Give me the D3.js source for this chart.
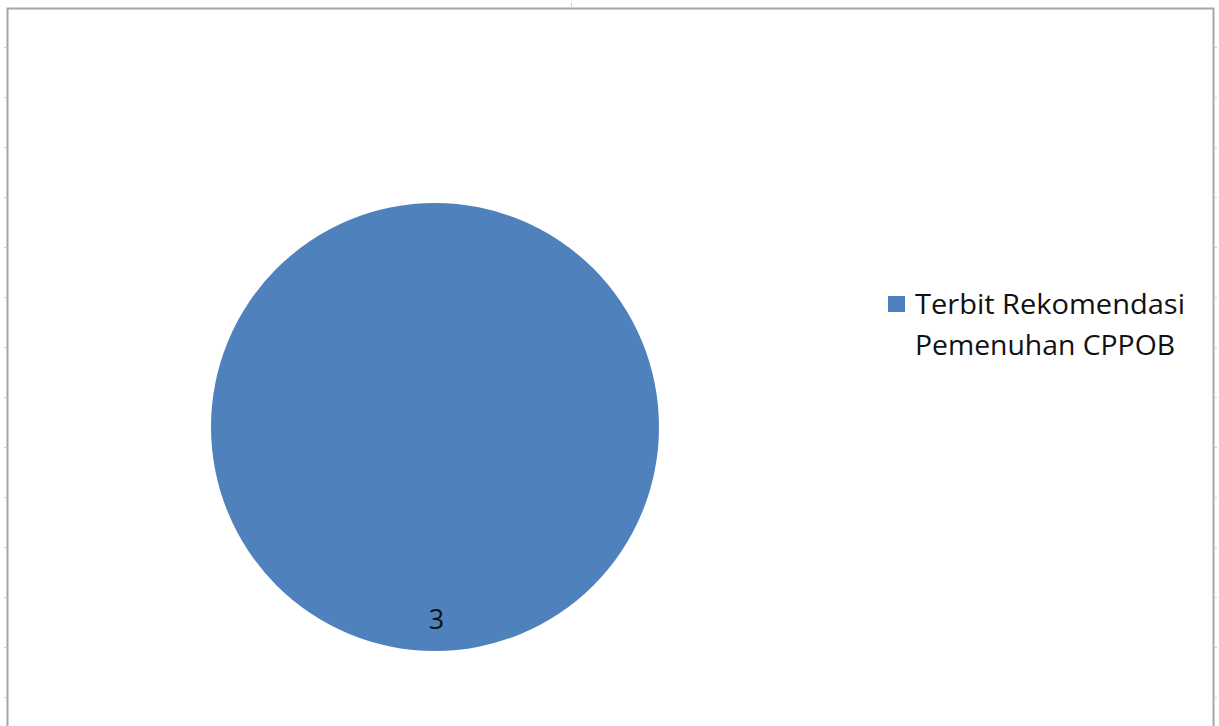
<!DOCTYPE html>
<html>
<head>
<meta charset="utf-8">
<title>Pie</title>
<script src="https://cdn.jsdelivr.net/npm/d3@7"></script>
<style>
  html, body { margin: 0; background: #fff; }
  svg { display: block; }
</style>
</head>
<body>
<svg id="chart"></svg>
<script>
var w = 1219, h = 726;

var categories = ["Terbit Rekomendasi Pemenuhan CPPOB"];
var values = [3];
var legendLines = [["Terbit Rekomendasi", "Pemenuhan CPPOB"]];
var colors = ["#4f81bd"];

var svg = d3.select("#chart").attr("width", w).attr("height", h);

// chart frame (cut at bottom)
svg.append("path")
    .attr("d", "M7.5," + h + "V8.5H1213.5V" + h)
    .attr("fill", "none")
    .attr("stroke", "#a6a6a6")
    .attr("stroke-width", 2);

// sheet grid marks on edges
var marks = d3.range(47, h, 50);
svg.selectAll(".lm").data(marks).enter().append("line")
    .attr("x1", 4).attr("x2", 7).attr("y1", function(d){return d + 0.5;}).attr("y2", function(d){return d + 0.5;})
    .attr("stroke", "#d0d0d0");
svg.selectAll(".rm").data(marks).enter().append("line")
    .attr("x1", 1214).attr("x2", 1217).attr("y1", function(d){return d + 0.5;}).attr("y2", function(d){return d + 0.5;})
    .attr("stroke", "#d0d0d0");
svg.append("line").attr("x1", 571.5).attr("x2", 571.5).attr("y1", 3).attr("y2", 7).attr("stroke", "#d0d0d0");

var cx = 435, cy = 427, r = 224;
var pie = d3.pie().sort(null).value(function(d){return d;});
var arc = d3.arc().innerRadius(0).outerRadius(r);

var g = svg.append("g").attr("transform", "translate(" + cx + "," + cy + ")");
var arcs = pie(values);
g.selectAll("path").data(arcs).enter().append("path")
    .attr("d", arc)
    .attr("fill", function(d, i){return colors[i];});

// data label: single full slice, label placed near bottom like the original
g.selectAll("text").data(arcs).enter().append("text")
    .attr("x", 1.5)
    .attr("y", 202)
    .attr("text-anchor", "middle")
    .attr("font-family", "'Open Sans', sans-serif")
    .attr("font-size", 27)
    .attr("fill", "#111")
    .text(function(d){return d.data;});

// legend
var lg = svg.append("g").attr("transform", "translate(888,296)");
lg.append("rect").attr("width", 17).attr("height", 16).attr("fill", colors[0]);
var lt = lg.append("text")
    .attr("font-family", "'Open Sans', sans-serif")
    .attr("font-size", 28)
    .attr("fill", "#111");
legendLines[0].forEach(function(s, i){
    lt.append("tspan").attr("x", 27).attr("y", 18 + i * 41).attr("textLength", i == 0 ? 270 : 260).attr("lengthAdjust", "spacingAndGlyphs").text(s);
});
</script>
</body>
</html>
